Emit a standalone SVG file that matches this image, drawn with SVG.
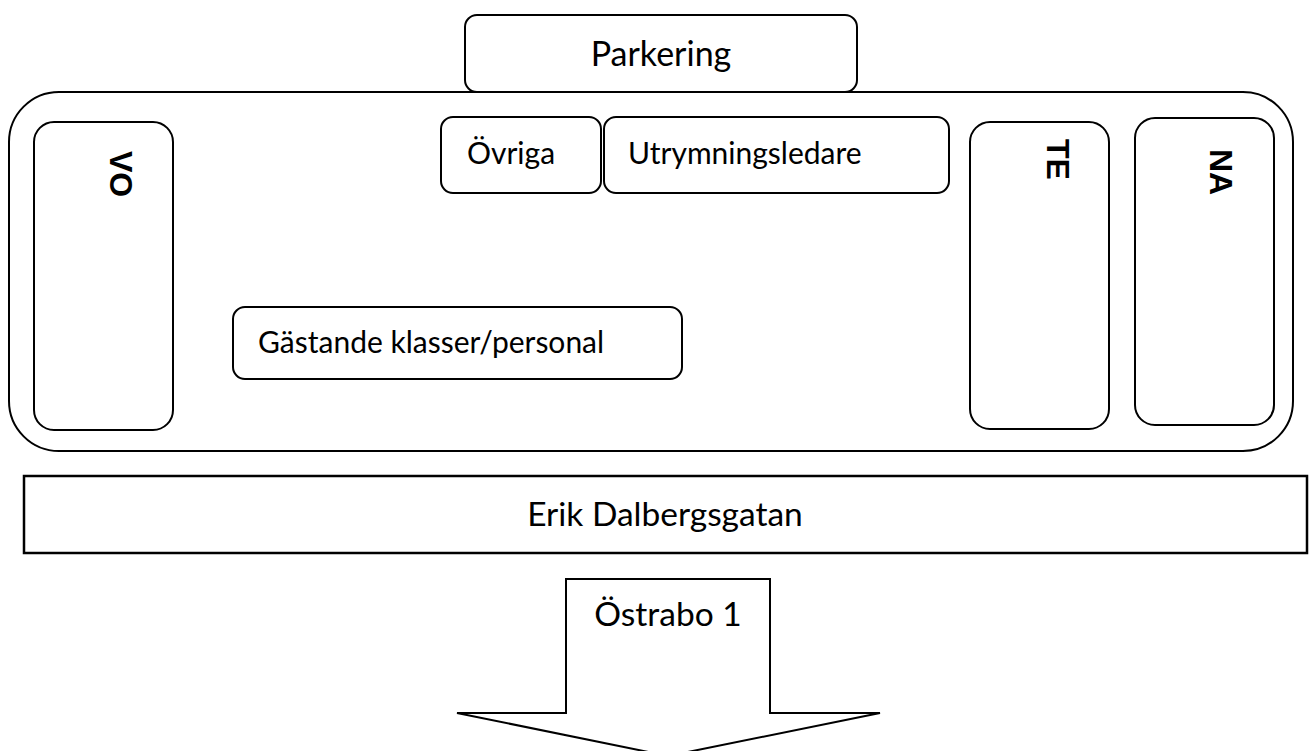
<svg xmlns="http://www.w3.org/2000/svg" width="1312" height="751" viewBox="0 0 1312 751">
  <style>
    .box { fill: #ffffff; stroke: #000000; stroke-width: 2; }
    .lbl { font-family: Lato, "Liberation Sans", sans-serif; fill: #000000; }
    .vert { font-family: "Liberation Sans", Arial, sans-serif; font-weight: bold; font-size: 32px; fill: #000000; }
  </style>
  <rect x="0" y="0" width="1312" height="751" fill="#ffffff"/>
  <g id="school">
    <rect class="box" x="9" y="92" width="1284" height="359" rx="50" ry="50"/>
  </g>
  <g id="parkering">
    <rect class="box" x="465" y="15" width="392" height="77" rx="12" ry="12"/>
    <text class="lbl" x="661" y="66" font-size="34" text-anchor="middle">Parkering</text>
  </g>
  <g id="vo">
    <rect class="box" x="34" y="122" width="139" height="308" rx="20" ry="20"/>
    <text class="vert" transform="translate(110,151) rotate(90)">VO</text>
  </g>
  <g id="ovriga">
    <rect class="box" x="441" y="117" width="160" height="76" rx="12" ry="12"/>
    <text class="lbl" x="467" y="164" font-size="30">Övriga</text>
  </g>
  <g id="utrymningsledare">
    <rect class="box" x="604" y="117" width="345" height="76" rx="12" ry="12"/>
    <text class="lbl" x="628" y="164" font-size="30">Utrymningsledare</text>
  </g>
  <g id="te">
    <rect class="box" x="970" y="122" width="139" height="307" rx="20" ry="20"/>
    <text class="vert" transform="translate(1047,139) rotate(90)">TE</text>
  </g>
  <g id="na">
    <rect class="box" x="1135" y="118" width="139" height="307" rx="20" ry="20"/>
    <text class="vert" transform="translate(1210,149) rotate(90)">NA</text>
  </g>
  <g id="gastande">
    <rect class="box" x="233" y="307" width="449" height="72" rx="12" ry="12"/>
    <text class="lbl" x="258" y="353" font-size="30">Gästande klasser/personal</text>
  </g>
  <g id="gata">
    <rect x="24" y="476" width="1283" height="77" fill="#ffffff" stroke="#000000" stroke-width="2.5"/>
    <text class="lbl" x="665" y="526" font-size="33.5" text-anchor="middle">Erik Dalbergsgatan</text>
  </g>
  <g id="connectors">
    <polygon id="ostrabo-arrow" points="566,579 770,579 770,713 880,713 668,756 457,713 566,713" fill="#ffffff" stroke="#000000" stroke-width="2"/>
    <text class="lbl" x="668" y="626" font-size="33.5" text-anchor="middle">Östrabo 1</text>
  </g>
</svg>
